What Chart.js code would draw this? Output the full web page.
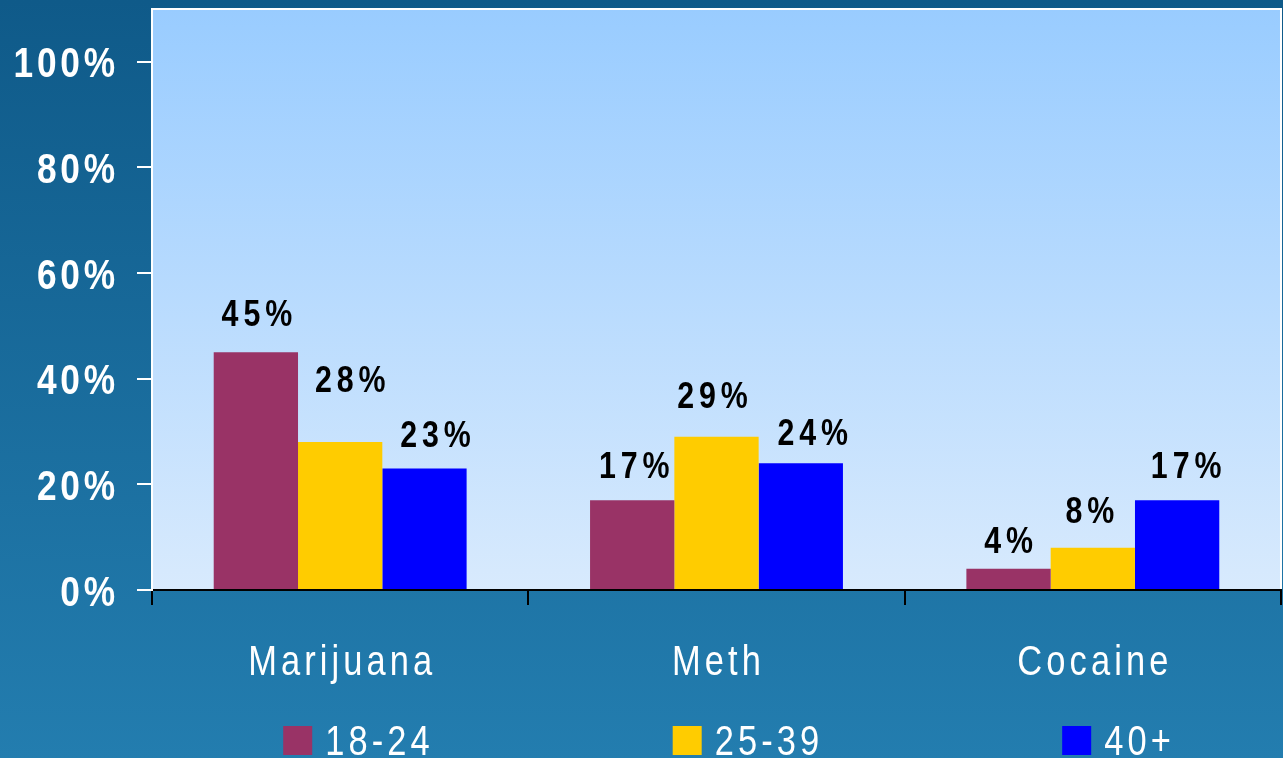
<!DOCTYPE html>
<html>
<head>
<meta charset="utf-8">
<script src="https://cdn.jsdelivr.net/npm/chart.js@4/dist/chart.umd.min.js"></script>
<style>
  html, body { margin: 0; padding: 0; background: #1a6fa2; overflow: hidden; }
  canvas { display: block; }
</style>
</head>
<body>
<canvas id="myChart" width="1283" height="758"></canvas>
<script>
// data
const categories = ['Marijuana', 'Meth', 'Cocaine']
const ageGroups = ['18-24', '25-39', '40+']
const age18to24 = [45, 17, 4]
const age25to39 = [28, 29, 8]
const age40plus = [23, 24, 17]
const yTickValues = [0, 20, 40, 60, 80, 100]

const barColors = ['#993366', '#ffcc00', '#0000ff']
// small hand nudges of value labels (dx, dy from bar top), per age group
const labelNudge = [
  [[1, -40], [2, -35], [0, -29]],
  [[10, -63], [-4, -42], [-3, -38]],
  [[11, -35], [12, -31], [9, -35]]
]

const FONT = '"Liberation Sans", Arial, sans-serif'
const SQUEEZE = 0.82 // the text in the picture is narrow

const drawText = (ctx, str, x, y, font, spacing, align) => {
  ctx.save()
  ctx.font = font
  ctx.letterSpacing = spacing + 'px'
  const w = (ctx.measureText(str).width - spacing) * SQUEEZE
  let left = x
  if (align === 'center') left = x - w / 2
  if (align === 'right') left = x - w
  ctx.translate(left, y)
  ctx.scale(SQUEEZE, 1)
  ctx.textAlign = 'left'
  ctx.textBaseline = 'alphabetic'
  ctx.fillText(str, 0, 0)
  ctx.restore()
  return w
}

const backdrop = {
  id: 'backdrop',
  beforeDraw(chart) {
    const { ctx, width, height, chartArea: a } = chart
    ctx.save()
    let g = ctx.createLinearGradient(0, 0, 0, height)
    g.addColorStop(0, '#0f5a89')
    g.addColorStop(1, '#237daf')
    ctx.fillStyle = g
    ctx.fillRect(0, 0, width, height)
    g = ctx.createLinearGradient(0, a.top, 0, a.bottom)
    g.addColorStop(0, '#99ccff')
    g.addColorStop(1, '#d8eafd')
    ctx.fillStyle = g
    ctx.fillRect(a.left, a.top, a.right - a.left, a.bottom - a.top)
    ctx.strokeStyle = '#ffffff'
    ctx.lineWidth = 2
    ctx.beginPath()
    ctx.moveTo(a.left, a.top)
    ctx.lineTo(a.right, a.top)
    ctx.lineTo(a.right, a.bottom)
    ctx.stroke()
    ctx.restore()
  }
}

const texts = {
  id: 'texts',
  afterDraw(chart) {
    const { ctx, scales } = chart
    ctx.save()
    // y tick labels
    ctx.fillStyle = '#ffffff'
    scales.y.ticks.forEach(t => {
      const y = scales.y.getPixelForValue(t.value)
      drawText(ctx, t.value + '%', 115, y + 15.5, 'bold 43px ' + FONT, 4.6, 'right')
    })
    // category labels
    categories.forEach((c, i) => {
      drawText(ctx, c, scales.x.getPixelForValue(i), 675, '42px ' + FONT, 5, 'center')
    })
    // value labels
    ctx.fillStyle = '#000000'
    chart.data.datasets.forEach((ds, di) => {
      chart.getDatasetMeta(di).data.forEach((bar, i) => {
        const [dx, dy] = labelNudge[di][i]
        drawText(ctx, ds.data[i] + '%', bar.x + dx, bar.y + dy + 13.2, 'bold 37px ' + FONT, 6, 'center')
      })
    })
    // legend
    const font = '42px ' + FONT
    const box = 29, gapBox = 13, gapItem = 243
    ctx.font = font
    ctx.letterSpacing = '5px'
    const widths = ageGroups.map(s => box + gapBox + (ctx.measureText(s).width - 5) * SQUEEZE)
    const total = widths.reduce((a, b) => a + b, 0) + gapItem * (widths.length - 1)
    let x = 727 - total / 2
    ctx.letterSpacing = '0px'
    ageGroups.forEach((s, i) => {
      ctx.fillStyle = barColors[i]
      ctx.fillRect(x, 726, box, box)
      ctx.fillStyle = '#ffffff'
      drawText(ctx, s, x + box + gapBox, 755, font, 5, 'left')
      x += widths[i] + gapItem
    })
    ctx.restore()
  }
}

const ctx = document.querySelector('#myChart').getContext('2d')
const myChart = new Chart(ctx, {
  type: 'bar',
  data: {
    labels: categories,
    datasets: [
      { label: ageGroups[0], data: age18to24, backgroundColor: barColors[0] },
      { label: ageGroups[1], data: age25to39, backgroundColor: barColors[1] },
      { label: ageGroups[2], data: age40plus, backgroundColor: barColors[2] }
    ]
  },
  options: {
    responsive: false,
    animation: false,
    devicePixelRatio: 1,
    categoryPercentage: 0.672,
    barPercentage: 1,
    layout: { padding: { top: 9, right: 2, left: 0, bottom: 0 } },
    plugins: { legend: { display: false }, tooltip: { enabled: false } },
    scales: {
      x: {
        ticks: { display: false },
        grid: { offset: true, drawOnChartArea: false, drawTicks: true, tickLength: 15, color: '#000000', lineWidth: 2 },
        border: { display: true, color: '#000000', width: 2 },
        afterFit: s => { s.height = 168 }
      },
      y: {
        min: 0,
        max: 110,
        ticks: { display: false },
        grid: { drawOnChartArea: false, drawTicks: true, tickLength: 15, color: '#ffffff', lineWidth: 2 },
        border: { display: true, color: '#ffffff', width: 2 },
        afterBuildTicks: s => { s.ticks = yTickValues.map(v => ({ value: v })) },
        afterFit: s => { s.width = 152 }
      }
    }
  },
  plugins: [backdrop, texts]
})
</script>
</body>
</html>
